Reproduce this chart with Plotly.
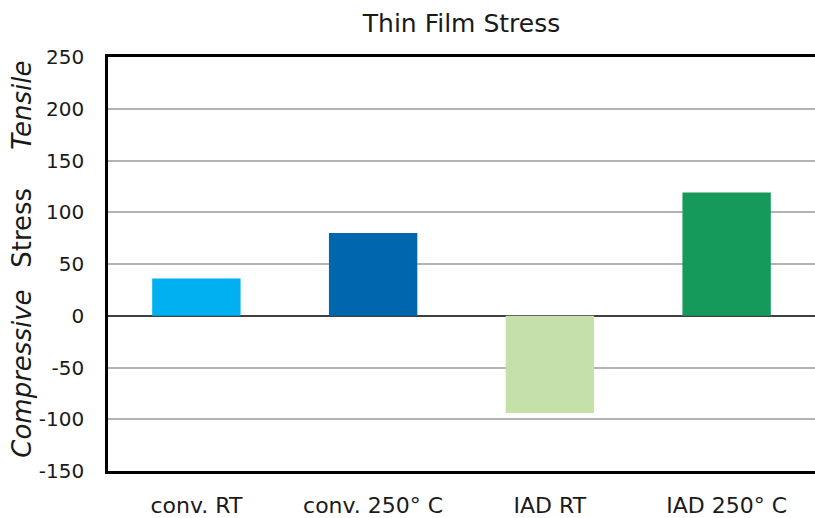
import plotly.graph_objects as go

categories = ["conv. RT", "conv. 250° C", "IAD RT", "IAD 250° C"]
stress = [36, 80, -94, 119]
colors = ["#00B0F0", "#0067AF", "#C5E0A9", "#159A5C"]
y_ticks = [-150, -100, -50, 0, 50, 100, 150, 200, 250]
y_tick_text = ["-150", "-100", "-50", "0", "50", "100", "150", "200", "250"]

FONT = "DejaVu Sans"
TXT = "#1a1a1a"

fig = go.Figure()
fig.add_trace(go.Bar(
    x=categories, y=stress,
    marker=dict(color=colors, line=dict(width=0)),
    width=0.5,
))

fig.update_layout(
    width=815, height=518,
    margin=dict(l=108, r=0, t=57, b=44),
    plot_bgcolor="white", paper_bgcolor="white",
    showlegend=False,
    font=dict(family=FONT, size=20, color=TXT),
    title=dict(text="Thin Film Stress", x=0.5, xanchor="center", xref="paper",
               y=1 - 23 / 518, yanchor="middle", font=dict(family=FONT, size=25, color=TXT)),
    xaxis=dict(
        showline=True, linecolor="black", linewidth=2.5, mirror=True,
        showgrid=False, ticks="", ticklabelstandoff=13,
        tickfont=dict(family=FONT, size=22, color=TXT),
    ),
    yaxis=dict(
        range=[-150, 250], tickvals=y_ticks, ticktext=y_tick_text,
        showline=True, linecolor="black", linewidth=2.5,
        showgrid=True, gridcolor="#b3b3b3", gridwidth=1.5,
        zeroline=True, zerolinecolor="#404040", zerolinewidth=1.8,
        ticks="", ticklabelstandoff=17,
        tickfont=dict(family=FONT, size=20, color=TXT),
    ),
)

for txt, yv, italic in [("Compressive", -56, True), ("Stress", 85, False), ("Tensile", 203, True)]:
    fig.add_annotation(
        text=f"<i>{txt}</i>" if italic else txt,
        xref="paper", x=0, xanchor="center", xshift=-86,
        yref="y", y=yv, yanchor="middle",
        textangle=-90, showarrow=False,
        font=dict(family=FONT, size=26, color=TXT),
    )

fig.write_html(
    "out.html",
    config={"displayModeBar": False},
    post_script="document.body.style.margin='0';document.body.style.overflow='hidden';",
)
